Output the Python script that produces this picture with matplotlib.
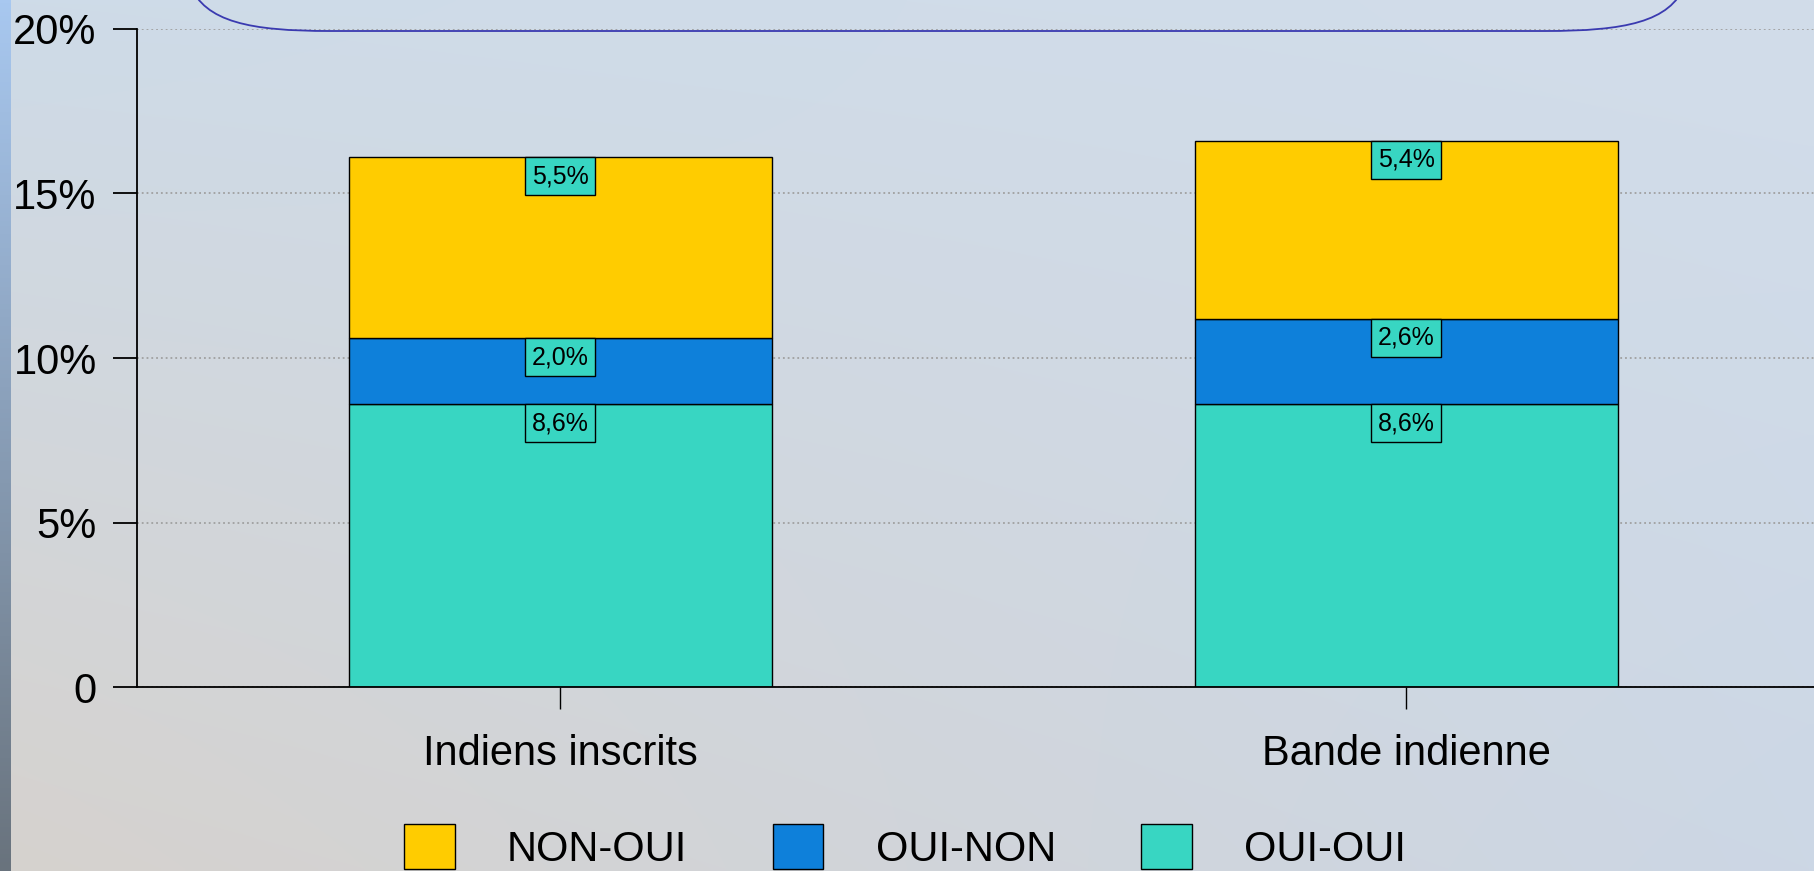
import numpy as np
import matplotlib
matplotlib.use('Agg')
import matplotlib.pyplot as plt
from matplotlib.path import Path
from matplotlib.patches import PathPatch

plt.rcParams['font.family'] = ['Liberation Sans', 'DejaVu Sans']

# Data (percent)
categories = ['Indiens inscrits', 'Bande indienne']
oui_oui = [8.6, 8.6]
oui_non = [2.0, 2.6]
non_oui = [5.5, 5.4]
series_names = ['NON-OUI', 'OUI-NON', 'OUI-OUI']
yticks = [0, 5, 10, 15, 20]
ytick_labels = ['0', '5%', '10%', '15%', '20%']

col_oui_oui = '#38d6c2'
col_oui_non = '#0e80da'
col_non_oui = '#ffcc00'

W, H = 1814, 871
fig = plt.figure(figsize=(W / 100, H / 100), dpi=100)

# background: soft sky-like gradient
gy, gx = np.mgrid[0:1:200j, 0:1:200j]
c_tl = np.array([206, 219, 232]) / 255.0
c_tr = np.array([210, 221, 234]) / 255.0
c_bl = np.array([214, 210, 206]) / 255.0
c_br = np.array([204, 215, 229]) / 255.0
grad = ((1 - gy)[..., None] * ((1 - gx)[..., None] * c_tl + gx[..., None] * c_tr)
        + gy[..., None] * ((1 - gx)[..., None] * c_bl + gx[..., None] * c_br))
bg = fig.add_axes([0, 0, 1, 1], zorder=-10)
bg.imshow(grad, extent=[0, 1, 0, 1], aspect='auto', interpolation='bilinear')
bg.axis('off')

# thin strip on the left edge
sy = np.linspace(0, 1, 200)[:, None]
strip = (1 - sy)[..., None] * (np.array([168, 200, 240]) / 255.0) + sy[..., None] * (np.array([105, 115, 125]) / 255.0)
st = fig.add_axes([0, 0, 11 / W, 1], zorder=-9)
st.imshow(strip, extent=[0, 1, 0, 1], aspect='auto')
st.axis('off')

# bottom of the rounded title box, cut by the top of the slide
def fp(px, py):
    return (px / W, 1 - py / H)

verts = [fp(190, -15), fp(205, 22), fp(250, 31), fp(330, 31),
         fp(1545, 31),
         fp(1625, 31), fp(1670, 22), fp(1685, -15)]
codes = [Path.MOVETO, Path.CURVE4, Path.CURVE4, Path.CURVE4,
         Path.LINETO,
         Path.CURVE4, Path.CURVE4, Path.CURVE4]
fig.patches.append(PathPatch(Path(verts, codes), transform=fig.transFigure,
                             fill=False, edgecolor='#3a3ab0', lw=1.3))

# main chart
ax = fig.add_axes([137 / W, 1 - 687 / H, (1829 - 137) / W, (687 - 29) / H])
ax.patch.set_alpha(0)

x = np.arange(len(categories))
width = 0.5
b1 = ax.bar(x, oui_oui, width, color=col_oui_oui, edgecolor='black', lw=1)
b2 = ax.bar(x, oui_non, width, bottom=oui_oui, color=col_oui_non, edgecolor='black', lw=1)
bottom3 = np.add(oui_oui, oui_non)
b3 = ax.bar(x, non_oui, width, bottom=bottom3, color=col_non_oui, edgecolor='black', lw=1)

# value labels, boxed, hanging from the top of each segment
pad = 0.28
fs_lab = 18
for vals, bots in [(oui_oui, [0, 0]), (oui_non, oui_oui), (non_oui, bottom3)]:
    for xi, v, b in zip(x, vals, bots):
        ax.annotate(('%.1f%%' % v).replace('.', ','), (xi, b + v),
                    xytext=(0, -pad * fs_lab), textcoords='offset points',
                    ha='center', va='top', fontsize=fs_lab,
                    bbox=dict(boxstyle='square,pad=%s' % pad, fc=col_oui_oui,
                              ec='black', lw=1))

ax.set_xlim(-0.5, 1.5)
ax.set_ylim(0, 20)
ax.set_xticks(x)
ax.set_xticklabels(categories)
ax.set_yticks(yticks)
ax.set_yticklabels(ytick_labels)

for s in ['top', 'right']:
    ax.spines[s].set_visible(False)
for s in ['left', 'bottom']:
    ax.spines[s].set_color('black')
    ax.spines[s].set_linewidth(1.3)

ax.tick_params(axis='y', direction='out', length=17, width=1.3, pad=12, labelsize=30)
ax.tick_params(axis='x', direction='out', length=16, width=1.0, pad=18, labelsize=30)
ax.yaxis.grid(True, color='#a0a0a0', linestyle=':', lw=1.3)
ax.set_axisbelow(True)

fig.legend(handles=[b3, b2, b1], labels=series_names, loc='upper left',
           bbox_to_anchor=(404 / W, 1 - 824 / H), ncol=3, frameon=False,
           fontsize=30, handlelength=1.22, handleheight=1.3,
           handletextpad=1.25, columnspacing=2.05, borderpad=0, borderaxespad=0)

fig.savefig('out.png', dpi=100)
